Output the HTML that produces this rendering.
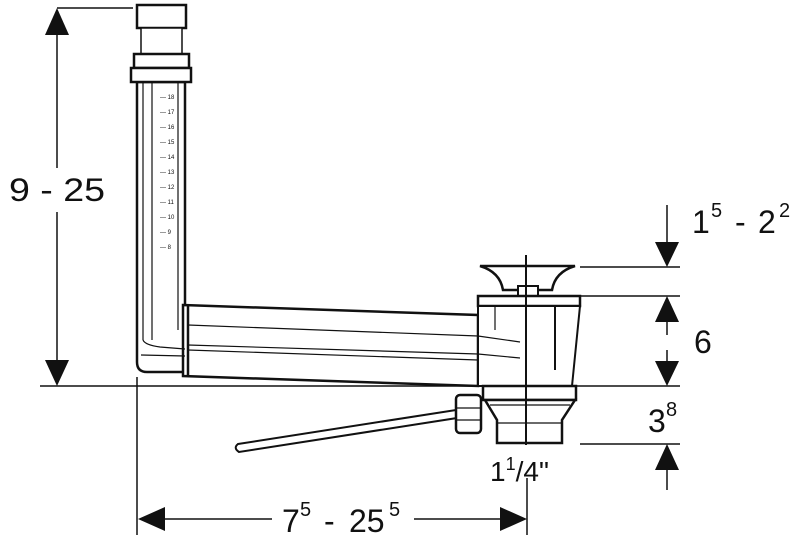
<!DOCTYPE html>
<html><head><style>
html,body{margin:0;padding:0;background:#fff;}
svg{display:block;}
text{font-family:"Liberation Sans",sans-serif;fill:#111;}
</style></head><body>
<svg width="800" height="543" viewBox="0 0 800 543" xmlns="http://www.w3.org/2000/svg">
<g stroke="#111" fill="none">
<line x1="57" y1="8" x2="133" y2="8" stroke-width="1.5"/>
<line x1="40" y1="386" x2="680" y2="386" stroke-width="1.5"/>
<line x1="57" y1="35" x2="57" y2="168" stroke-width="1.5"/>
<line x1="57" y1="212" x2="57" y2="360" stroke-width="1.5"/>
<line x1="137" y1="377" x2="137" y2="535" stroke-width="1.5"/>
<line x1="527" y1="478" x2="527" y2="535" stroke-width="1.5"/>
<line x1="165" y1="519" x2="272" y2="519" stroke-width="1.5"/>
<line x1="414" y1="519" x2="500" y2="519" stroke-width="1.5"/>
<line x1="580" y1="267" x2="680" y2="267" stroke-width="1.5"/>
<line x1="580" y1="296" x2="680" y2="296" stroke-width="1.5"/>
<line x1="580" y1="444" x2="680" y2="444" stroke-width="1.5"/>
<line x1="667" y1="205" x2="667" y2="245" stroke-width="1.5"/>
<line x1="667" y1="320" x2="667" y2="335" stroke-width="1.5"/>
<line x1="667" y1="350" x2="667" y2="365" stroke-width="1.5"/>
<line x1="667" y1="468" x2="667" y2="490" stroke-width="1.5"/>
</g>
<g fill="#111">
<polygon points="45,35 69,35 57,8"/>
<polygon points="45,360 69,360 57,386"/>
<polygon points="138,519 165,507 165,531"/>
<polygon points="527,519 500,507 500,531"/>
<polygon points="655,242 679,242 667,267"/>
<polygon points="655,322 679,322 667,296"/>
<polygon points="655,361 679,361 667,386"/>
<polygon points="655,470 679,470 667,444"/>
</g>
<text x="9" y="201" font-size="32" textLength="96" lengthAdjust="spacingAndGlyphs">9 - 25</text>
<g font-size="32">
<text x="282" y="532">7</text><text x="300" y="516" font-size="20">5</text>
<text x="324" y="532">-</text><text x="349" y="532">25</text><text x="389" y="516" font-size="20">5</text>
<text x="692" y="233">1</text><text x="711" y="217" font-size="20">5</text>
<text x="735" y="233">-</text><text x="758" y="233">2</text><text x="779" y="217" font-size="20">2</text>
<text x="694" y="353">6</text>
<text x="648" y="432">3</text><text x="666" y="416" font-size="20">8</text>
</g>
<text x="490" y="481" font-size="28">1<tspan font-size="18" dy="-11">1</tspan><tspan dy="11">/4"</tspan></text>

<g stroke="#111" fill="#fff" stroke-width="2.5">
<path d="M137,82 L137,362 Q137,372 147,372 L185,372 L185,82 Z"/>
<rect x="137" y="5" width="49" height="23"/>
<rect x="141" y="28" width="41" height="26" stroke-width="1.5"/>
<rect x="134" y="54" width="55" height="14"/>
<rect x="131" y="68" width="60" height="14"/>
<path d="M183,305 L478,315 L478,386 L183,376 Z"/>
<path d="M480,266 L575,266 Q555,272 552,290 L503,290 Q500,272 480,266 Z"/>
<rect x="518" y="286" width="20" height="10" stroke-width="2"/>
<rect x="478" y="296" width="102" height="10"/>
<path d="M478,306 L580,306 L572,386 L478,386 Z" stroke-width="2"/>
<rect x="483" y="386" width="93" height="14"/>
<path d="M485,400 L575,400 L562,420 L562,443 L497,443 L497,420 Z"/>
<path d="M238,444 L456,410 L457,418 L239,452 Q233,448 238,444 Z" stroke-width="2"/>
<rect x="456" y="395" width="25" height="38" rx="4"/>
</g>
<g stroke="#111" fill="none" stroke-width="1.2">
<line x1="143" y1="82" x2="143" y2="340"/>
<line x1="152" y1="82" x2="152" y2="340"/>
<line x1="178" y1="82" x2="178" y2="330"/>
<path d="M143,340 Q145,345 160,347 L185,349"/>
<line x1="141" y1="355" x2="185" y2="356"/>
<line x1="188" y1="305" x2="188" y2="376" stroke-width="2.5"/>
<path d="M188,325 L478,336 L520,342"/>
<path d="M188,345 L478,354 L520,358"/>
<path d="M188,350 L478,360"/>
<line x1="526" y1="255" x2="526" y2="445" stroke-width="2"/>
<line x1="555" y1="306" x2="555" y2="370" stroke-width="2"/>
<line x1="497" y1="423" x2="562" y2="423"/>
<line x1="490" y1="405" x2="570" y2="405"/>
<line x1="456" y1="408" x2="481" y2="408"/>
<line x1="456" y1="420" x2="481" y2="420"/>
<path d="M495,306 L495,330"/>
</g>
<g fill="#111" font-size="6" font-family="Liberation Sans">
<text x="160" y="99">— 18</text><text x="160" y="114">— 17</text><text x="160" y="129">— 16</text>
<text x="160" y="144">— 15</text><text x="160" y="159">— 14</text><text x="160" y="174">— 13</text>
<text x="160" y="189">— 12</text><text x="160" y="204">— 11</text><text x="160" y="219">— 10</text>
<text x="160" y="234">— 9</text><text x="160" y="249">— 8</text>
</g>
</svg>
</body></html>
